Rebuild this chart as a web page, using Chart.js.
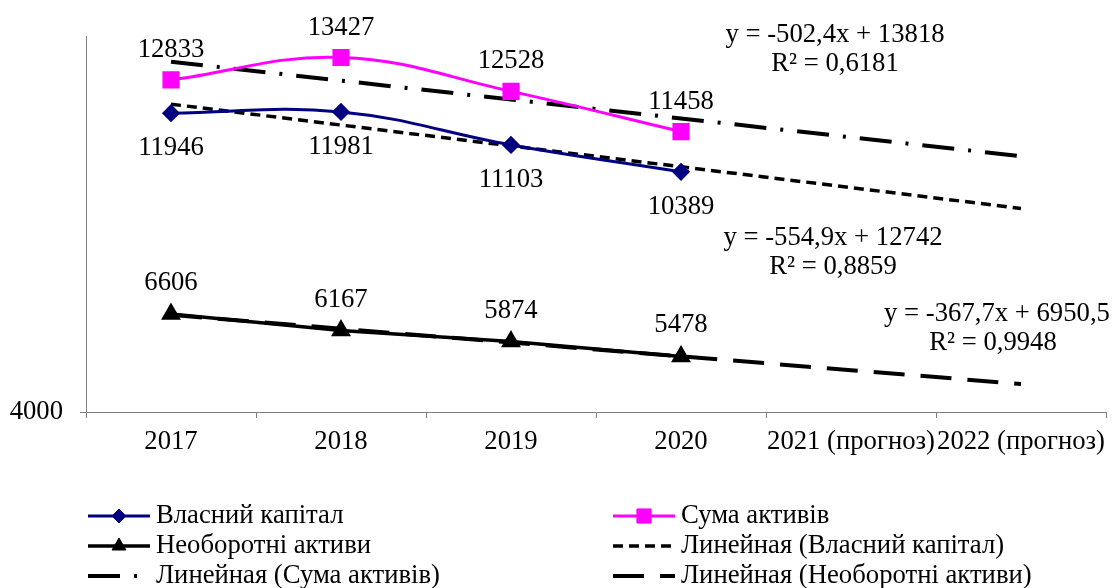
<!DOCTYPE html>
<html>
<head>
<meta charset="utf-8">
<title>Chart</title>
<script src="https://cdn.jsdelivr.net/npm/chart.js@4.4.1/dist/chart.umd.min.js"></script>
<style>
    html, body { margin: 0; padding: 0; background: #fff; }
    #chart { display: block; }
</style>
</head>
<body>
<canvas id="chart" width="1113" height="588"></canvas>
<script>
    // Data
    var years = ["2017", "2018", "2019", "2020", "2021 (прогноз)", "2022 (прогноз)"];
    var equity = [11946, 11981, 11103, 10389, null, null];
    var assets = [12833, 13427, 12528, 11458, null, null];
    var fixedAssets = [6606, 6167, 5874, 5478, null, null];
    var equityTrend = [12187, 11632, 11077, 10522, 9968, 9413];
    var assetsTrend = [13316, 12813, 12311, 11808, 11306, 10804];
    var fixedTrend = [6583, 6215, 5847, 5480, 5112, 4744];
    var yTicks = [4000];

    var FONT = '"Liberation Serif", "Times New Roman", serif';
    var SIZE = 26.7;

    // Value labels and trend equations
    var textPlugin = {
        id: 'textPlugin',
        afterDatasetsDraw: function (chart) {
            var ctx = chart.ctx;
            ctx.save();
            ctx.font = SIZE + 'px ' + FONT;
            ctx.fillStyle = '#000';
            ctx.textAlign = 'center';
            ctx.textBaseline = 'middle';
            chart.data.datasets.forEach(function (ds, i) {
                if (ds.labelShift === undefined) return;
                var meta = chart.getDatasetMeta(i);
                meta.data.forEach(function (pt, j) {
                    if (ds.data[j] === null) return;
                    ctx.fillText(ds.data[j], pt.x, pt.y + ds.labelShift);
                });
            });

            var eqs = [
                ["y = -502,4x + 13818", 835, 35],
                ["R² = 0,6181", 835, 64],
                ["y = -554,9x + 12742", 833, 238],
                ["R² = 0,8859", 833, 267],
                ["y = -367,7x + 6950,5", 997, 314],
                ["R² = 0,9948", 993, 343]
            ];
            eqs.forEach(function (e) {
                ctx.fillText(e[0], e[1], e[2]);
            });
            ctx.restore();
        }
    };

    // Legend in two columns under the chart
    var legendPlugin = {
        id: 'legendPlugin',
        afterDraw: function (chart) {
            var ctx = chart.ctx;
            var cols = [88, 613];
            var rows = [516, 546, 576];
            ctx.save();
            chart.data.datasets.forEach(function (ds, i) {
                var x = cols[i % 2];
                var y = rows[Math.floor(i / 2)];
                ctx.save();
                ctx.strokeStyle = ds.borderColor;
                ctx.lineWidth = ds.borderWidth;
                ctx.setLineDash(ds.borderDash || []);
                ctx.beginPath();
                ctx.moveTo(x, y);
                ctx.lineTo(x + 62, y);
                ctx.stroke();
                ctx.restore();
                if (ds.pointRadius > 0) {
                    ctx.fillStyle = ds.pointBackgroundColor;
                    ctx.strokeStyle = ds.pointBackgroundColor;
                    ctx.lineWidth = 1;
                    Chart.helpers.drawPoint(ctx, {
                        pointStyle: ds.pointStyle,
                        radius: ds.pointRadius,
                        rotation: 0,
                        borderWidth: 1
                    }, x + 31, y);
                }
                ctx.fillStyle = '#000';
                ctx.font = SIZE + 'px ' + FONT;
                ctx.textAlign = 'left';
                ctx.textBaseline = 'middle';
                ctx.fillText(ds.label, x + 68, y);
            });
            ctx.restore();
        }
    };

    var ctx1 = document.getElementById('chart').getContext('2d');
    var myChart = new Chart(ctx1, {
        type: 'line',
        data: {
            labels: years,
            datasets: [{
                    label: 'Власний капітал',
                    data: equity,
                    borderColor: '#000080',
                    borderWidth: 3,
                    tension: 0.4,
                    pointStyle: 'rectRot',
                    pointRadius: 7,
                    pointBackgroundColor: '#000080',
                    pointBorderColor: '#000080',
                    labelShift: 35
                },
                {
                    label: 'Сума активів',
                    data: assets,
                    borderColor: '#ff00ff',
                    borderWidth: 3,
                    tension: 0.4,
                    pointStyle: 'rect',
                    pointRadius: 10,
                    pointBackgroundColor: '#ff00ff',
                    pointBorderColor: '#ff00ff',
                    labelShift: -30
                },
                {
                    label: 'Необоротні активи',
                    data: fixedAssets,
                    borderColor: '#000',
                    borderWidth: 3.5,
                    tension: 0,
                    pointStyle: 'triangle',
                    pointRadius: 8,
                    pointBackgroundColor: '#000',
                    pointBorderColor: '#000',
                    labelShift: -31
                },
                {
                    label: 'Линейная (Власний капітал)',
                    data: equityTrend,
                    borderColor: '#000',
                    borderWidth: 3.5,
                    borderDash: [10, 6],
                    pointRadius: 0
                },
                {
                    label: 'Линейная (Сума активів)',
                    data: assetsTrend,
                    borderColor: '#000',
                    borderWidth: 4,
                    borderDash: [32, 14, 3, 14],
                    pointRadius: 0
                },
                {
                    label: 'Линейная (Необоротні активи)',
                    data: fixedTrend,
                    borderColor: '#000',
                    borderWidth: 4,
                    borderDash: [31, 16],
                    pointRadius: 0
                }
            ]
        },
        options: {
            responsive: false,
            animation: false,
            layout: {
                autoPadding: false,
                padding: { top: 36, right: 7, bottom: 126, left: 0 }
            },
            plugins: {
                legend: { display: false },
                tooltip: { enabled: false }
            },
            scales: {
                x: {
                    offset: true,
                    afterFit: function (scale) {
                        scale.height = 50;
                        scale.paddingLeft = 0;
                        scale.paddingRight = 0;
                    },
                    grid: {
                        offset: true,
                        drawOnChartArea: false,
                        tickLength: 6,
                        color: '#808080'
                    },
                    border: { color: '#808080', width: 1 },
                    ticks: {
                        color: '#000',
                        padding: 8,
                        maxRotation: 0,
                        autoSkip: false,
                        font: { family: FONT, size: SIZE }
                    }
                },
                y: {
                    min: 4000,
                    max: 14000,
                    afterFit: function (scale) {
                        scale.width = 86;
                        scale.paddingTop = 0;
                        scale.paddingBottom = 0;
                    },
                    afterBuildTicks: function (scale) {
                        scale.ticks = yTicks.map(function (v) { return { value: v }; });
                    },
                    grid: {
                        drawOnChartArea: false,
                        tickLength: 6,
                        color: '#808080'
                    },
                    border: { color: '#808080', width: 1 },
                    ticks: {
                        color: '#000',
                        padding: 17,
                        font: { family: FONT, size: SIZE },
                        callback: function (v) { return String(v); }
                    }
                }
            }
        },
        plugins: [textPlugin, legendPlugin]
    });
</script>
</body>
</html>
